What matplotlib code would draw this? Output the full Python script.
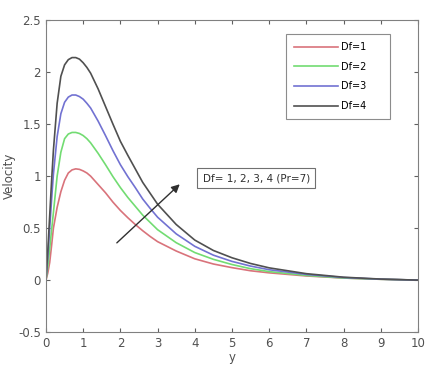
import numpy as np
import matplotlib
matplotlib.use("Agg")
import matplotlib.pyplot as plt

## Valeurs

y = [0, 0.05, 0.1, 0.15, 0.2, 0.3, 0.4, 0.5, 0.6, 0.7, 0.8, 0.9, 1.0, 1.1, 1.2, 1.4,
     1.6, 1.8, 2.0, 2.2, 2.4, 2.6, 2.8, 3.0, 3.5, 4.0, 4.5, 5.0, 5.5, 6.0, 7.0, 8.0,
     9.0, 10.0]

u_df1 = [0, 0.07, 0.17, 0.33, 0.50, 0.70, 0.85, 0.96, 1.03, 1.06, 1.07, 1.065, 1.05,
         1.03, 1.00, 0.92, 0.84, 0.75, 0.67, 0.60, 0.535, 0.475, 0.42, 0.37, 0.28,
         0.205, 0.155, 0.12, 0.09, 0.07, 0.04, 0.02, 0.008, 0.0]
u_df2 = [0, 0.13, 0.30, 0.48, 0.65, 1.00, 1.23, 1.36, 1.405, 1.42, 1.42, 1.41, 1.39,
         1.36, 1.32, 1.22, 1.11, 0.995, 0.89, 0.795, 0.71, 0.625, 0.555, 0.485, 0.36,
         0.265, 0.20, 0.15, 0.11, 0.082, 0.045, 0.02, 0.008, 0.0]
u_df3 = [0, 0.23, 0.50, 0.77, 1.02, 1.38, 1.60, 1.71, 1.76, 1.78, 1.78, 1.765, 1.74,
         1.70, 1.655, 1.53, 1.39, 1.245, 1.11, 0.995, 0.89, 0.78, 0.69, 0.605, 0.445,
         0.325, 0.24, 0.18, 0.135, 0.10, 0.055, 0.025, 0.009, 0.0]
u_df4 = [0, 0.29, 0.62, 0.95, 1.25, 1.70, 1.96, 2.07, 2.12, 2.14, 2.14, 2.125, 2.09,
         2.045, 1.99, 1.84, 1.67, 1.50, 1.335, 1.20, 1.07, 0.94, 0.835, 0.73, 0.535,
         0.385, 0.285, 0.215, 0.16, 0.118, 0.062, 0.028, 0.01, 0.0]

labels = ["Df=1", "Df=2", "Df=3", "Df=4"]
couleurs = ["#d9737b", "#72dc72", "#7272d2", "#505050"]

## Tracé

fig = plt.figure(figsize=(4.4, 3.8), dpi=100)
ax = fig.add_axes([0.1045, 0.126, 0.8455, 0.821])

for u, lab, c in zip([u_df1, u_df2, u_df3, u_df4], labels, couleurs):
    ax.plot(y, u, color=c, lw=1.2, label=lab + "     ")

ax.set_xlim(0, 10)
ax.set_ylim(-0.5, 2.5)
ax.set_xticks(np.arange(0, 11, 1))
ax.set_yticks([-0.5, 0, 0.5, 1, 1.5, 2, 2.5])
ax.set_yticklabels(["-0.5", "0", "0.5", "1", "1.5", "2", "2.5"])
ax.tick_params(direction="in", top=True, right=True, length=3, width=0.8,
               colors="#606060", labelsize=8.5, labelcolor="#505050")
for s in ax.spines.values():
    s.set_color("#808080")
    s.set_linewidth(0.8)

ax.set_xlabel("y", fontsize=8.5, color="#505050", labelpad=1)
ax.set_ylabel("Velocity", fontsize=8.5, color="#505050", labelpad=2)

leg = ax.legend(loc="upper right", bbox_to_anchor=(0.925, 0.955), fontsize=7,
                fancybox=False, edgecolor="#707070", handlelength=4.6,
                labelspacing=1.0, borderpad=0.8, handletextpad=0.3,
                borderaxespad=0)
leg.get_frame().set_linewidth(0.8)

ax.annotate("", xy=(3.65, 0.94), xytext=(1.85, 0.34),
            arrowprops=dict(arrowstyle="-|>", color="#303030", lw=1.0,
                            mutation_scale=12))
ax.text(5.65, 0.98, "Df= 1, 2, 3, 4 (Pr=7)", fontsize=7.5, color="#303030",
        ha="center", va="center",
        bbox=dict(boxstyle="square,pad=0.5", fc="white", ec="#707070", lw=0.8))

fig.savefig("out.png")
